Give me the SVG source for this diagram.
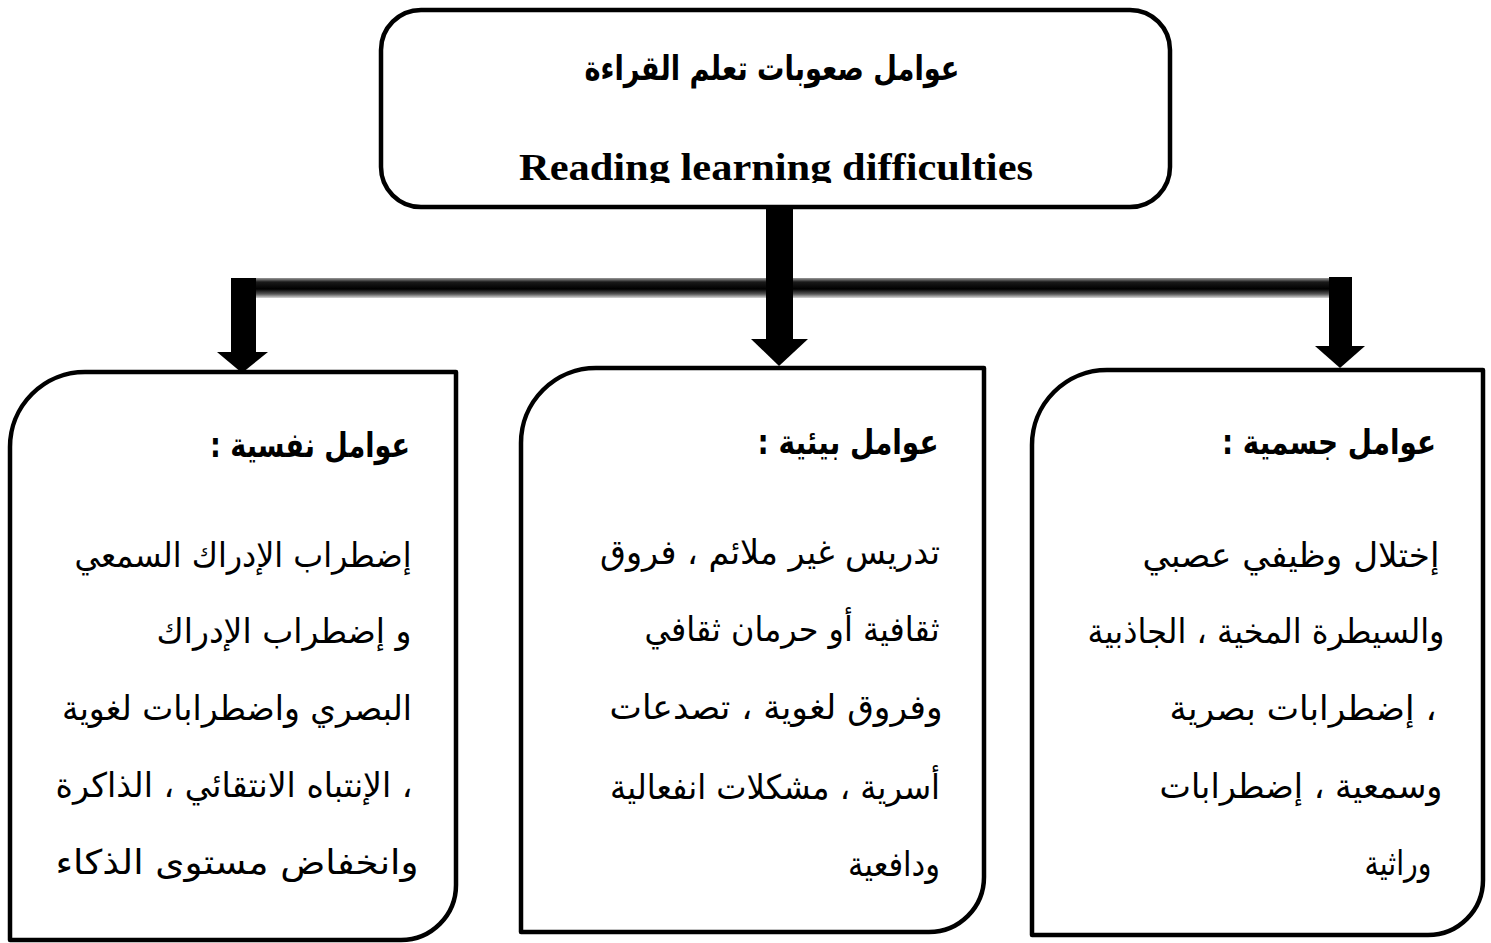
<svg xmlns="http://www.w3.org/2000/svg" width="1491" height="943" viewBox="0 0 1491 943">
<style>
.box{fill:#fff;stroke:#000;stroke-width:4.5;stroke-linejoin:round}
.ar{font-family:"DejaVu Sans","Noto Sans",sans-serif;font-size:34px;fill:#000}
.arb{font-family:"DejaVu Sans","Noto Sans",sans-serif;font-size:34px;font-weight:bold;fill:#000}
.en{font-family:"Liberation Serif","Times New Roman",serif;font-size:38px;font-weight:bold;fill:#000}
.stem{fill:#000}
</style>
<defs>
<linearGradient id="barg" x1="0" y1="0" x2="0" y2="1">
<stop offset="0" stop-color="#9a9a9a"/>
<stop offset="0.2" stop-color="#1a1a1a"/>
<stop offset="0.55" stop-color="#000"/>
<stop offset="0.8" stop-color="#555"/>
<stop offset="1" stop-color="#d8d8d8"/>
</linearGradient>
<clipPath id="clipTop"><rect x="381" y="10" width="790" height="173"/></clipPath>
</defs>

<g id="connectors">
<rect x="240" y="278" width="1100" height="20" fill="url(#barg)"/>
<rect class="stem" x="766" y="207" width="27" height="133"/>
<polygon class="stem" points="751,339 808,339 779,366"/>
<rect class="stem" x="231" y="278" width="25" height="75"/>
<polygon class="stem" points="217,352 268,352 242,373"/>
<rect class="stem" x="1329" y="277" width="23" height="70"/>
<polygon class="stem" points="1315,346 1365,346 1340,368"/>
</g>

<g id="node-top">
<rect class="box" x="381" y="10" width="789" height="197" rx="40" ry="40"/>
<text class="arb" x="772" y="80" text-anchor="middle" direction="rtl" textLength="375" lengthAdjust="spacingAndGlyphs">عوامل صعوبات تعلم القراءة</text>
<g clip-path="url(#clipTop)">
<text class="en" x="776" y="180" text-anchor="middle" textLength="514" lengthAdjust="spacingAndGlyphs">Reading learning difficulties</text>
</g>
</g>

<g id="node-psych">
<path class="box" d="M85,372 H456 V885 A55,55 0 0 1 401,940 H10 V447 A75,75 0 0 1 85,372 Z"/>
<text class="arb" x="310" y="457" text-anchor="middle" direction="rtl" textLength="200" lengthAdjust="spacingAndGlyphs">عوامل نفسية :</text>
<text class="ar" x="243" y="567" text-anchor="middle" direction="rtl" textLength="337" lengthAdjust="spacingAndGlyphs">إضطراب الإدراك السمعي</text>
<text class="ar" x="284" y="643" text-anchor="middle" direction="rtl" textLength="255" lengthAdjust="spacingAndGlyphs">و إضطراب الإدراك</text>
<text class="ar" x="237" y="720" text-anchor="middle" direction="rtl" textLength="350" lengthAdjust="spacingAndGlyphs">البصري واضطرابات لغوية</text>
<text class="ar" x="234" y="797" text-anchor="middle" direction="rtl" textLength="357" lengthAdjust="spacingAndGlyphs">، الإنتباه الانتقائي ، الذاكرة</text>
<text class="ar" x="237" y="874" text-anchor="middle" direction="rtl" textLength="363" lengthAdjust="spacingAndGlyphs">وانخفاض مستوى الذكاء</text>
</g>

<g id="node-env">
<path class="box" d="M596,368 H984 V877 A55,55 0 0 1 929,932 H521 V443 A75,75 0 0 1 596,368 Z"/>
<text class="arb" x="848" y="454" text-anchor="middle" direction="rtl" textLength="181" lengthAdjust="spacingAndGlyphs">عوامل بيئية :</text>
<text class="ar" x="770" y="564" text-anchor="middle" direction="rtl" textLength="340" lengthAdjust="spacingAndGlyphs">تدريس غير ملائم ، فروق</text>
<text class="ar" x="792" y="641" text-anchor="middle" direction="rtl" textLength="295" lengthAdjust="spacingAndGlyphs">ثقافية أو حرمان ثقافي</text>
<text class="ar" x="776" y="719" text-anchor="middle" direction="rtl" textLength="333" lengthAdjust="spacingAndGlyphs">وفروق لغوية ، تصدعات</text>
<text class="ar" x="775" y="799" text-anchor="middle" direction="rtl" textLength="330" lengthAdjust="spacingAndGlyphs">أسرية ، مشكلات انفعالية</text>
<text class="ar" x="894" y="876" text-anchor="middle" direction="rtl" textLength="92" lengthAdjust="spacingAndGlyphs">ودافعية</text>
</g>

<g id="node-phys">
<path class="box" d="M1107,370 H1483 V880 A55,55 0 0 1 1428,935 H1032 V445 A75,75 0 0 1 1107,370 Z"/>
<text class="arb" x="1329" y="454" text-anchor="middle" direction="rtl" textLength="214" lengthAdjust="spacingAndGlyphs">عوامل جسمية :</text>
<text class="ar" x="1291" y="567" text-anchor="middle" direction="rtl" textLength="297" lengthAdjust="spacingAndGlyphs">إختلال وظيفي عصبي</text>
<text class="ar" x="1266" y="643" text-anchor="middle" direction="rtl" textLength="357" lengthAdjust="spacingAndGlyphs">والسيطرة المخية ، الجاذبية</text>
<text class="ar" x="1303" y="720" text-anchor="middle" direction="rtl" textLength="267" lengthAdjust="spacingAndGlyphs">، إضطرابات بصرية</text>
<text class="ar" x="1301" y="798" text-anchor="middle" direction="rtl" textLength="283" lengthAdjust="spacingAndGlyphs">وسمعية ، إضطرابات</text>
<text class="ar" x="1398" y="875" text-anchor="middle" direction="rtl" textLength="67" lengthAdjust="spacingAndGlyphs">وراثية</text>
</g>
</svg>
